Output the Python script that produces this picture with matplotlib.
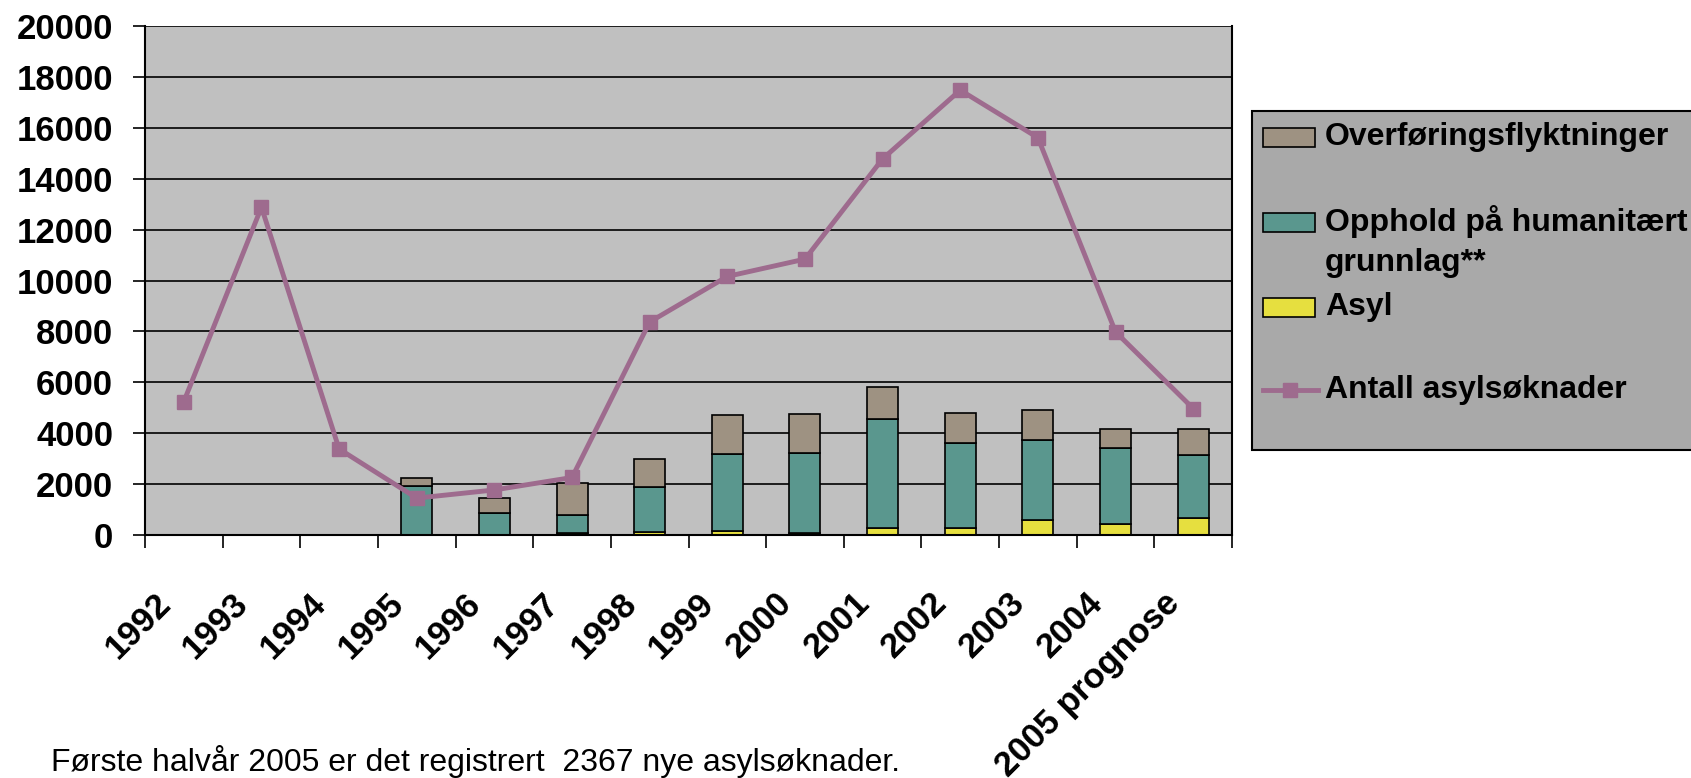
import matplotlib.pyplot as plt
from matplotlib.patches import Rectangle
from matplotlib.lines import Line2D
from matplotlib.transforms import ScaledTranslation
import numpy as np

plt.rcParams['font.family'] = ['Liberation Sans', 'DejaVu Sans']

years = ['1992', '1993', '1994', '1995', '1996', '1997', '1998', '1999',
         '2000', '2001', '2002', '2003', '2004', '2005 prognose']
asyl = [0, 0, 0, 0, 0, 60, 100, 170, 90, 290, 290, 600, 420, 650]
humanitaert = [0, 0, 0, 1910, 850, 710, 1800, 3010, 3140, 4250, 3320, 3140, 2990, 2510]
overforing = [0, 0, 0, 330, 590, 1280, 1070, 1520, 1510, 1280, 1200, 1190, 770, 1020]
soknader = [5240, 12880, 3380, 1450, 1770, 2260, 8370, 10160, 10840,
            14780, 17480, 15610, 7980, 4970]

c_asyl = '#e6df3f'
c_hum = '#5a978e'
c_over = '#9e9282'
c_line = '#9e6b8e'

W, H = 1691, 778
fig = plt.figure(figsize=(W / 100, H / 100), dpi=100)
ax = fig.add_axes([145 / W, 1 - 535 / H, (1232 - 145) / W, (535 - 26) / H])
ax.set_facecolor('#c0c0c0')

x = np.arange(len(years))
w = 0.4
bot2 = np.array(asyl)
bot3 = bot2 + np.array(humanitaert)
ax.bar(x, asyl, w, color=c_asyl, edgecolor='black', linewidth=1.2, zorder=2)
ax.bar(x, humanitaert, w, bottom=bot2, color=c_hum, edgecolor='black', linewidth=1.2, zorder=2)
ax.bar(x, overforing, w, bottom=bot3, color=c_over, edgecolor='black', linewidth=1.2, zorder=2)
ax.plot(x, soknader, color=c_line, linewidth=3.5, marker='s', markersize=10, zorder=3)

ax.set_xlim(-0.5, len(years) - 0.5)
ax.set_ylim(0, 20000)
ax.set_yticks(range(0, 20001, 2000))
ax.yaxis.grid(True, color='black', linewidth=1.2, zorder=1)
ax.set_axisbelow(True)
for s in ax.spines.values():
    s.set_color('black')
    s.set_linewidth(1.5)
ax.spines['top'].set_visible(False)

ax.tick_params(axis='y', length=9, width=1.2, labelsize=25, pad=14)
for lab in ax.get_yticklabels():
    lab.set_fontweight('bold')

ax.set_xticks(x)
ax.set_xticklabels(years, rotation=45, ha='right', va='top', rotation_mode='anchor',
                   fontsize=25, fontweight='bold')
ax.tick_params(axis='x', which='major', length=0, pad=14)
shift = ScaledTranslation(-0.30, -0.32, fig.dpi_scale_trans)
for lab in ax.get_xticklabels():
    lab.set_transform(lab.get_transform() + shift)
ax.set_xticks(np.arange(-0.5, len(years)), minor=True)
ax.tick_params(axis='x', which='minor', length=9, width=1.2)

# legend (drawn by hand to follow the original's uneven spacing)
fig.patches.append(Rectangle((1252 / W, 1 - 450 / H), 0.3, (450 - 111) / H,
                             transform=fig.transFigure, facecolor='#a9a9a9',
                             edgecolor='black', linewidth=1.5))
entries = [(c_over, 'Overføringsflyktninger', 137),
           (c_hum, 'Opphold på humanitært', 222),
           (c_asyl, 'Asyl', 307)]
for col, txt, yy in entries:
    fig.patches.append(Rectangle((1263 / W, 1 - (yy + 9.5) / H), 52 / W, 19 / H,
                                 transform=fig.transFigure, facecolor=col,
                                 edgecolor='black', linewidth=1.2))
    fig.text(1325 / W, 1 - yy / H, txt, fontsize=23, fontweight='bold',
             va='center', ha='left')
fig.text(1325 / W, 1 - 263 / H, 'grunnlag**', fontsize=23, fontweight='bold',
         va='center', ha='left')
fig.lines.append(Line2D([1263 / W, 1318 / W], [1 - 390 / H] * 2, transform=fig.transFigure,
                        color=c_line, linewidth=3.5))
fig.lines.append(Line2D([1290 / W], [1 - 390 / H], transform=fig.transFigure,
                        color=c_line, marker='s', markersize=10))
fig.text(1325 / W, 1 - 390 / H, 'Antall asylsøknader', fontsize=23, fontweight='bold',
         va='center', ha='left')

fig.text(51 / W, 1 - 761 / H, 'Første halvår 2005 er det registrert  2367 nye asylsøknader.',
         fontsize=23, va='center', ha='left')

fig.savefig('out.png', dpi=100)
